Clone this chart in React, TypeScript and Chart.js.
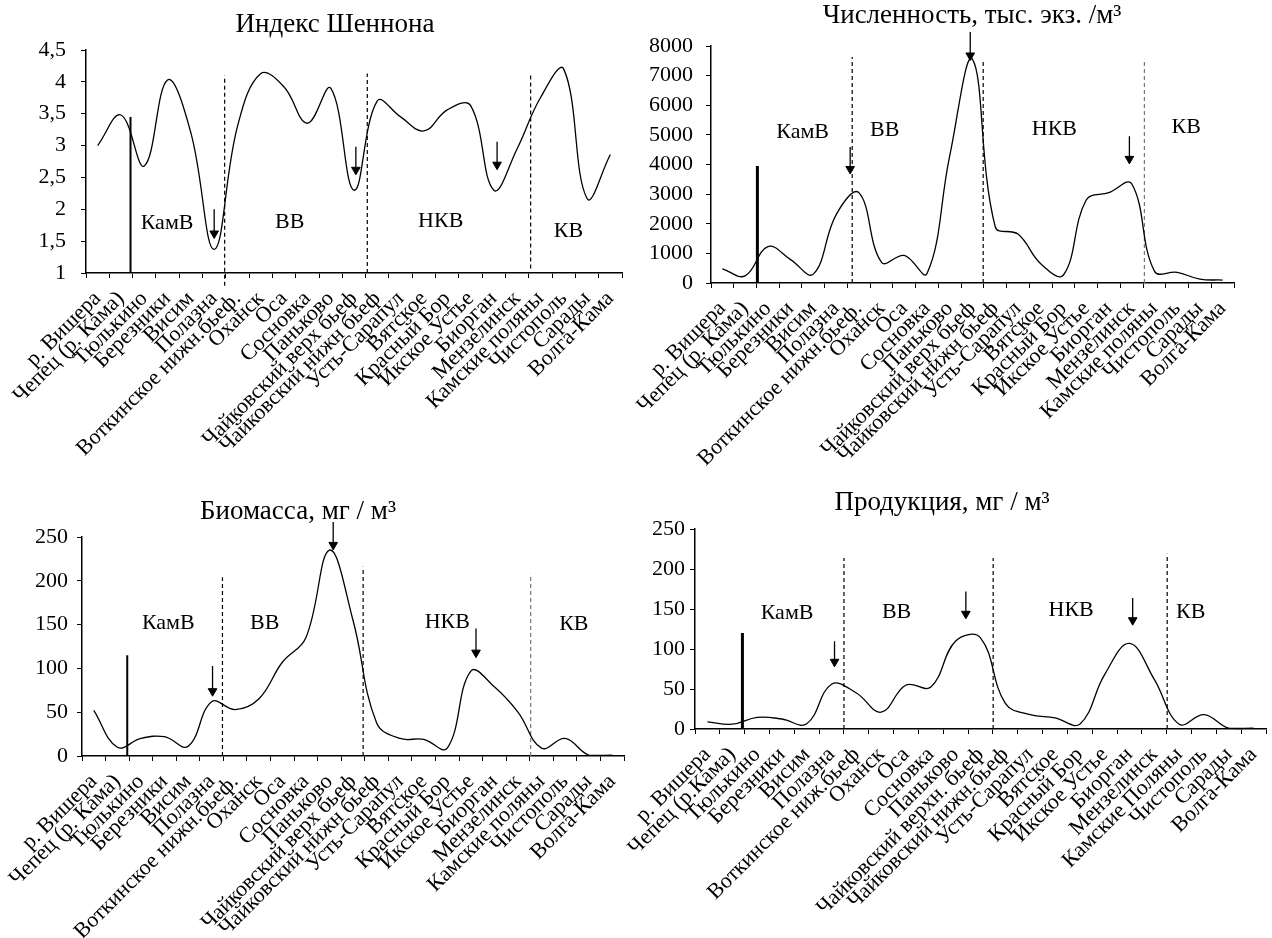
import React, { useEffect, useRef } from 'react';
import { Chart, registerables } from 'chart.js';
Chart.register(...registerables);

const FONT = "'Liberation Serif', 'Times New Roman', serif";

// ---------- categories ----------
const stationsA = ['р. Вишера', 'Чепец (р. Кама)', 'Тюлькино', 'Березники', 'Висим', 'Полазна', 'Воткинское нижн.бьеф.', 'Оханск', 'Оса', 'Сосновка', 'Паньково', 'Чайковский верх бьеф', 'Чайковский нижн бьеф', 'Усть-Сарапул', 'Вятское', 'Красный Бор', 'Икское Устье', 'Биорган', 'Мензелинск', 'Камские поляны', 'Чистополь', 'Сарады', 'Волга-Кама'];
const stationsB = ['р. Вишера', 'Чепец (р.Кама)', 'Тюлькино', 'Березники', 'Висим', 'Полазна', 'Воткинское ниж.бьеф', 'Оханск', 'Оса', 'Сосновка', 'Паньково', 'Чайковский верхн. бьеф', 'Чайковский нижн.бьеф', 'Усть-Сарапул', 'Вятское', 'Красный Бор', 'Икское Устье', 'Биорган', 'Мензелинск', 'Камские Поляны', 'Чистополь', 'Сарады', 'Волга-Кама'];
const regionNames = ['КамВ', 'ВВ', 'НКВ', 'КВ'];

// ---------- series ----------
const shannonValues = [3.0, 3.48, 2.68, 4.03, 3.2, 1.37, 3.3, 4.13, 3.92, 3.35, 3.9, 2.3, 3.7, 3.45, 3.23, 3.56, 3.63, 2.3, 2.95, 3.75, 4.2, 2.17, 2.86];
const abundanceValues = [480, 240, 1230, 790, 300, 2300, 3050, 700, 930, 320, 4300, 7550, 1900, 1650, 650, 270, 2800, 3050, 3350, 400, 360, 130, 100];
const biomassValues = [52, 10, 20, 22, 11, 62, 53, 65, 107, 135, 235, 155, 38, 20, 19, 9, 97, 79, 50, 9, 20, 1, 1];
const productionValues = [9, 6, 14.5, 12.5, 6.5, 56, 45, 21, 55, 52.5, 110, 114, 32, 18, 14, 6, 68, 107, 62, 6, 18, 1, 1];

// ---------- y tick ranges ----------
const shannonTicks = [1, 4.5, 0.5];
const abundanceTicks = [0, 8000, 1000];
const biomassTicks = [0, 250, 50];
const productionTicks = [0, 250, 50];

// ---------- reference lines (category index units / value units) ----------
const shannonSolid = [1.41, 3.45];
const shannonDashX = [5.45, 11.57, 18.58];
const shannonDashTop = [4.1, 4.13, 4.12];
const shannonDashBottom = [0.8, 1, 1.07];
const shannonArrowX = [5.0, 11.08, 17.14];
const shannonArrowTop = [2.0, 2.98, 3.06];
const shannonArrowTip = [1.62, 2.62, 2.7];
const shannonRegionX = [2.98, 8.24, 14.72, 20.2];
const shannonRegionY = [1.78, 1.8, 1.82, 1.66];

const abundanceSolid = [1.54, 3950];
const abundanceDashX = [5.71, 11.47, 18.56];
const abundanceDashTop = [7630, 7515, 7570];
const abundanceDashBottom = [0, 0, 0];
const abundanceArrowX = [5.62, 10.9, 17.9];
const abundanceArrowTop = [4590, 8470, 4950];
const abundanceArrowTip = [3850, 7680, 4190];
const abundanceRegionX = [3.53, 7.14, 14.6, 20.4];
const abundanceRegionY = [5100, 5170, 5200, 5260];

const biomassSolid = [1.42, 115];
const biomassDashX = [5.46, 11.43, 18.54];
const biomassDashTop = [204, 216, 208];
const biomassDashBottom = [0, 0, 0];
const biomassArrowX = [5.04, 10.16, 16.22];
const biomassArrowTop = [102.6, 267, 145.5];
const biomassArrowTip = [74, 241, 118];
const biomassRegionX = [3.16, 7.25, 15.0, 20.37];
const biomassRegionY = [152, 152, 153, 151];

const productionSolid = [1.41, 120];
const productionDashX = [5.5, 11.51, 18.52];
const productionDashTop = [213.75, 213.75, 219];
const productionDashBottom = [0, 0, 0];
const productionArrowX = [5.12, 10.41, 17.13];
const productionArrowTop = [109.6, 172, 163.75];
const productionArrowTip = [84, 144, 136];
const productionRegionX = [3.21, 7.62, 14.65, 19.47];
const productionRegionY = [145, 146, 148, 146];

type Panel = {
  rect: number[];
  area: number[];
  title: string;
  titlePos: number[];
  yPad: number;
  labels: string[];
  values: number[];
  ticks: number[];
  comma: boolean;
  solid: number[];
  solidWidth: number;
  dashX: number[];
  dashTop: number[];
  dashBottom: number[];
  dashColors: string[];
  arrowX: number[];
  arrowTop: number[];
  arrowTip: number[];
  regionX: number[];
  regionY: number[];
};

const panels: Panel[] = [
  {
    rect: [0, 0, 640, 480], area: [86, 50, 622, 273],
    title: 'Индекс Шеннона', titlePos: [335, 25], yPad: 15,
    labels: stationsA, values: shannonValues, ticks: shannonTicks, comma: true,
    solid: shannonSolid, solidWidth: 2, dashX: shannonDashX, dashTop: shannonDashTop, dashBottom: shannonDashBottom,
    dashColors: ['#000', '#000', '#000'],
    arrowX: shannonArrowX, arrowTop: shannonArrowTop, arrowTip: shannonArrowTip,
    regionX: shannonRegionX, regionY: shannonRegionY,
  },
  {
    rect: [600, 0, 672, 480], area: [711, 46, 1234, 283],
    title: 'Численность, тыс. экз. /м³', titlePos: [972, 16], yPad: 13,
    labels: stationsA, values: abundanceValues, ticks: abundanceTicks, comma: false,
    solid: abundanceSolid, solidWidth: 3, dashX: abundanceDashX, dashTop: abundanceDashTop, dashBottom: abundanceDashBottom,
    dashColors: ['#000', '#000', '#777'],
    arrowX: abundanceArrowX, arrowTop: abundanceArrowTop, arrowTip: abundanceArrowTip,
    regionX: abundanceRegionX, regionY: abundanceRegionY,
  },
  {
    rect: [0, 470, 640, 468], area: [82, 537, 624, 756],
    title: 'Биомасса, мг / м³', titlePos: [298, 512], yPad: 9,
    labels: stationsA, values: biomassValues, ticks: biomassTicks, comma: false,
    solid: biomassSolid, solidWidth: 2, dashX: biomassDashX, dashTop: biomassDashTop, dashBottom: biomassDashBottom,
    dashColors: ['#000', '#000', '#777'],
    arrowX: biomassArrowX, arrowTop: biomassArrowTop, arrowTip: biomassArrowTip,
    regionX: biomassRegionX, regionY: biomassRegionY,
  },
  {
    rect: [600, 470, 672, 468], area: [695, 529, 1270, 729],
    title: 'Продукция, мг / м³', titlePos: [942, 503], yPad: 5,
    labels: stationsB, values: productionValues, ticks: productionTicks, comma: false,
    solid: productionSolid, solidWidth: 3, dashX: productionDashX, dashTop: productionDashTop, dashBottom: productionDashBottom,
    dashColors: ['#000', '#000', '#000'],
    arrowX: productionArrowX, arrowTop: productionArrowTop, arrowTip: productionArrowTip,
    regionX: productionRegionX, regionY: productionRegionY,
  },
];

function PanelChart({ p }: { p: Panel }) {
  const ref = useRef<HTMLCanvasElement | null>(null);
  useEffect(() => {
    const canvas = ref.current;
    if (!canvas) return;
    const [cl, ct, cw, ch] = p.rect;
    const [al, at, ar, ab] = p.area;
    const yW = al - cl;
    const xH = ct + ch - ab;

    const datasets: any[] = [
      {
        type: 'line', data: p.values, xAxisID: 'x', yAxisID: 'y',
        borderColor: '#000', borderWidth: 1.3, pointRadius: 0, tension: 0.4, fill: false, clip: false,
      },
      {
        type: 'line', data: [{ x: p.solid[0], y: p.ticks[0] }, { x: p.solid[0], y: p.solid[1] }],
        xAxisID: 'xl', yAxisID: 'y', borderColor: '#000', borderWidth: p.solidWidth, pointRadius: 0, clip: false,
      },
    ];
    p.dashX.forEach((x, i) => {
      datasets.push({
        type: 'line', data: [{ x, y: p.dashBottom[i] }, { x, y: p.dashTop[i] }],
        xAxisID: 'xl', yAxisID: 'y', borderColor: p.dashColors[i], borderWidth: 1.2, borderDash: [4, 3],
        pointRadius: 0, clip: false,
      });
    });
    p.arrowX.forEach((x, i) => {
      datasets.push({
        type: 'line', data: [{ x, y: p.arrowTop[i] }, { x, y: p.arrowTip[i] }],
        xAxisID: 'xl', yAxisID: 'y', borderColor: '#000', borderWidth: 1.3,
        pointRadius: [0, 5], pointStyle: 'triangle', rotation: 180,
        pointBackgroundColor: '#000', pointBorderColor: '#000', pointBorderWidth: 1, clip: false,
      });
    });

    const textPlugin = {
      id: 'panelText',
      afterDatasetsDraw(chart: any) {
        const ctx = chart.ctx;
        const xs = chart.scales.xl;
        const ys = chart.scales.y;
        ctx.save();
        ctx.fillStyle = '#000';
        ctx.textAlign = 'center';
        ctx.textBaseline = 'middle';
        ctx.font = `22px ${FONT}`;
        regionNames.forEach((name, i) => {
          ctx.fillText(name, xs.getPixelForValue(p.regionX[i]), ys.getPixelForValue(p.regionY[i]));
        });
        ctx.font = `27px ${FONT}`;
        ctx.fillText(p.title, p.titlePos[0] - cl, p.titlePos[1] - ct);
        ctx.restore();
      },
    };

    const chart = new Chart(canvas, {
      type: 'line',
      data: { labels: p.labels, datasets },
      options: {
        responsive: false,
        animation: false,
        devicePixelRatio: 1,
        layout: { padding: { left: 0, top: at - ct, right: cl + cw - ar, bottom: 0 } },
        plugins: { legend: { display: false }, tooltip: { enabled: false }, title: { display: false } },
        scales: {
          x: {
            type: 'category', offset: true,
            grid: { offset: true, drawOnChartArea: false, drawTicks: true, tickLength: 5, color: '#000', lineWidth: 1 },
            border: { display: true, color: '#000', width: 1.5 },
            ticks: { autoSkip: false, maxRotation: 45, minRotation: 45, color: '#000', font: { family: FONT, size: 22 }, padding: 8 },
            afterFit: (s: any) => { s.height = xH; s.paddingLeft = 0; s.paddingRight = 0; },
          },
          xl: { type: 'linear', display: false, min: -0.5, max: 22.5 },
          y: {
            min: p.ticks[0], max: p.ticks[1],
            ticks: {
              stepSize: p.ticks[2], color: '#000', font: { family: FONT, size: 22 }, padding: p.yPad,
              callback: (v: any) => (p.comma ? String(v).replace('.', ',') : String(v)),
            },
            grid: { drawOnChartArea: false, drawTicks: true, tickLength: 5, color: '#000', lineWidth: 1 },
            border: { display: true, color: '#000', width: 1.5 },
            afterFit: (s: any) => { s.width = yW; s.paddingTop = 0; s.paddingBottom = 0; },
          },
        },
      } as any,
      plugins: [textPlugin],
    });
    return () => chart.destroy();
  }, [p]);
  const [l, t, w, h] = p.rect;
  return <canvas ref={ref} width={w} height={h} style={{ position: 'absolute', left: l, top: t, width: w, height: h }} />;
}

export default function App() {
  return (
    <div style={{ position: 'absolute', left: 0, top: 0, width: 1272, height: 938, overflow: 'hidden', background: '#fff' }}>
      {panels.map((p, i) => <PanelChart key={i} p={p} />)}
    </div>
  );
}
